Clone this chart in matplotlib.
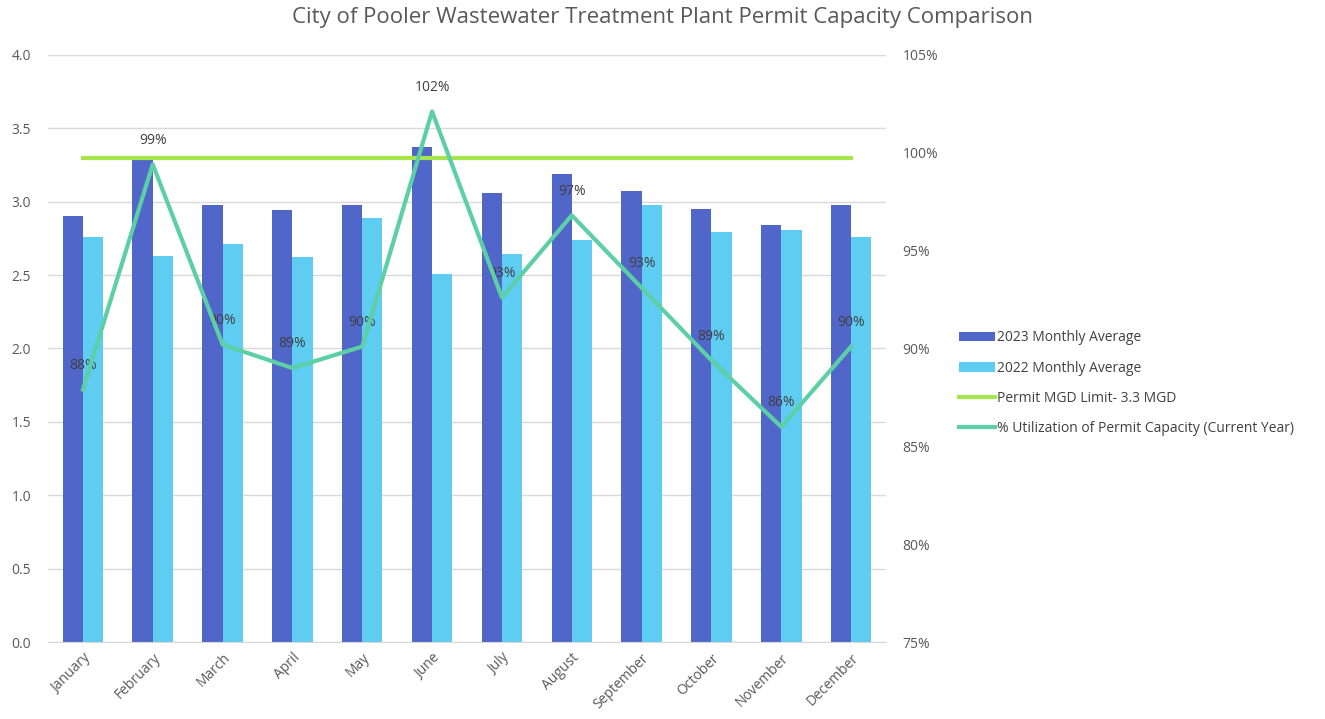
import numpy as np
import matplotlib
matplotlib.use('Agg')
import matplotlib.pyplot as plt
from matplotlib.ticker import FuncFormatter

plt.rcParams['font.family'] = ['Open Sans', 'DejaVu Sans']

months = ['January', 'February', 'March', 'April', 'May', 'June', 'July',
          'August', 'September', 'October', 'November', 'December']
avg_2023 = [2.90, 3.29, 2.975, 2.94, 2.975, 3.37, 3.06, 3.19, 3.07, 2.95, 2.84, 2.975]
avg_2022 = [2.76, 2.63, 2.71, 2.62, 2.89, 2.51, 2.645, 2.74, 2.975, 2.795, 2.81, 2.76]
permit_limit = 3.3
utilization = [87.9, 99.4, 90.2, 89.0, 90.1, 102.1, 92.6, 96.8, 93.1, 89.4, 86.0, 90.1]
util_labels = ['88%', '99%', '90%', '89%', '90%', '102%', '93%', '97%', '93%', '89%', '86%', '90%']

c2023 = '#5067C9'
c2022 = '#5FCCF2'
c_limit = '#A6E64A'
c_util = '#5CCFA6'
txt = '#595959'

fig = plt.figure(figsize=(13.25, 7.19), dpi=100)
ax = fig.add_axes([0.0362, 0.1067, 0.6325, 0.8172])
x = np.arange(len(months))
w = 0.29

b1 = ax.bar(x - w / 2, avg_2023, w, color=c2023, zorder=2)
b2 = ax.bar(x + w / 2, avg_2022, w, color=c2022, zorder=2)
l1, = ax.plot(x, [permit_limit] * len(x), color=c_limit, lw=3, zorder=3)

ax.set_xlim(-0.5, 11.5)
ax.set_ylim(0, 4)
ax.set_yticks(np.arange(0, 4.01, 0.5))
ax.yaxis.set_major_formatter(FuncFormatter(lambda v, p: f'{v:.1f}'))
ax.grid(axis='y', color='#D9D9D9', lw=1, zorder=0)
ax.set_axisbelow(True)
for s in ['top', 'right', 'left']:
    ax.spines[s].set_visible(False)
ax.spines['bottom'].set_color('#D9D9D9')
ax.tick_params(axis='both', length=0, colors=txt, labelsize=10)
ax.tick_params(axis='y', pad=12)
ax.tick_params(axis='x', pad=6)
ax.set_xticks(x)
ax.set_xticklabels(months, rotation=45, ha='right', rotation_mode='anchor')

ax2 = ax.twinx()
l2, = ax2.plot(x, utilization, color=c_util, lw=3, zorder=4)
ax2.set_ylim(75, 105)
ax2.set_yticks(np.arange(75, 106, 5))
ax2.yaxis.set_major_formatter(FuncFormatter(lambda v, p: f'{v:.0f}%'))
for s in ['top', 'right', 'left', 'bottom']:
    ax2.spines[s].set_visible(False)
ax2.tick_params(axis='y', length=0, colors=txt, labelsize=10, pad=12)
for xi, yi, lb in zip(x, utilization, util_labels):
    ax2.annotate(lb, (xi, yi), xytext=(0, 12), textcoords='offset points',
                 ha='center', va='bottom', fontsize=10, color='#404040')

fig.suptitle('City of Pooler Wastewater Treatment Plant Permit Capacity Comparison',
             x=0.5, y=0.99, fontsize=16, color=txt)

fig.legend([b1, b2, l1, l2],
           ['2023 Monthly Average', '2022 Monthly Average', 'Permit MGD Limit- 3.3 MGD',
            '% Utilization of Permit Capacity (Current Year)'],
           loc='center left', bbox_to_anchor=(0.714, 0.467),
           frameon=False, fontsize=10, labelcolor='#404040', handlelength=2.6,
           handletextpad=0.2, labelspacing=1.1)

fig.savefig('out.png', dpi=100)
